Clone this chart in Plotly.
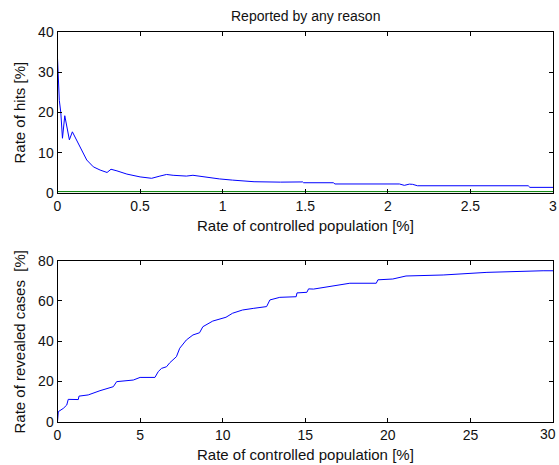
import plotly.graph_objects as go

# Top panel: rate of hits vs rate of controlled population
hits_x = [0.0, 0.011, 0.02, 0.03, 0.044, 0.072, 0.09, 0.136, 0.177, 0.217, 0.258, 0.30, 0.324,
          0.36, 0.42, 0.50, 0.57, 0.62, 0.66, 0.70, 0.78, 0.82, 0.90, 0.98, 1.06, 1.19, 1.35,
          1.485, 1.49, 1.67, 1.68, 2.07, 2.10, 2.13, 2.15, 2.18, 2.85, 2.86, 3.0]
hits_y = [33.5, 23.0, 20.0, 13.6, 19.2, 13.2, 15.2, 11.5, 8.2, 6.5, 5.7, 5.1, 5.9,
          5.5, 4.7, 4.0, 3.65, 4.2, 4.6, 4.4, 4.2, 4.4, 3.9, 3.5, 3.2, 2.8, 2.7,
          2.75, 2.55, 2.55, 2.24, 2.24, 1.9, 2.2, 2.15, 1.8, 1.8, 1.4, 1.4]
baseline_x = [0.0, 3.0]
baseline_y = [0.35, 0.35]

# Bottom panel: rate of revealed cases vs rate of controlled population
cases_x = [0.0, 0.05, 0.35, 0.56, 0.65, 1.26, 1.3, 1.86, 2.57, 3.38, 3.58, 4.59, 5.0, 5.9,
           6.1, 6.3, 6.6, 6.8, 7.2, 7.4, 7.8, 8.2, 8.6, 8.8, 9.4, 10.2, 10.6, 11.2, 11.85,
           12.66, 12.86, 13.46, 14.45, 14.5, 15.1, 15.2, 15.5, 16.7, 17.7, 19.3, 19.4,
           20.3, 21.1, 23.35, 25.2, 26.0, 29.4, 30.0]
cases_y = [0.0, 5.0, 6.6, 8.3, 11.1, 11.0, 12.7, 13.3, 15.4, 17.4, 19.9, 20.7, 22.0, 22.0,
           24.9, 26.5, 27.3, 29.3, 32.3, 36.5, 40.6, 43.1, 44.2, 47.2, 50.0, 51.9, 53.9,
           55.5, 56.3, 57.2, 60.5, 61.8, 62.1, 64.0, 64.3, 66.0, 65.9, 67.6, 68.8, 68.8,
           70.5, 70.9, 72.4, 72.9, 73.7, 74.2, 75.0, 75.0]

top_xticks = [0, 0.5, 1, 1.5, 2, 2.5, 3]
top_xlabels = ["0", "0.5", "1", "1.5", "2", "2.5", "3"]
top_yticks = [0, 10, 20, 30, 40]
bot_xticks = [0, 5, 10, 15, 20, 25, 30]
bot_xlabels = ["0", "5", "10", "15", "20", "25", ""]
last_bot_label = "30"
bot_yticks = [0, 20, 40, 60, 80]

W, H = 559, 465
xl, xr = 57.5 / W, 553 / W
top_dom = [1 - 193 / H, 1 - 32 / H]
bot_dom = [1 - 421.7 / H, 1 - 260.7 / H]

fig = go.Figure()
fig.add_trace(go.Scatter(x=hits_x, y=hits_y, mode="lines", line=dict(color="#0000ff", width=1),
                         xaxis="x", yaxis="y", showlegend=False))
fig.add_trace(go.Scatter(x=baseline_x, y=baseline_y, mode="lines", line=dict(color="#007f00", width=1),
                         xaxis="x", yaxis="y", showlegend=False))
fig.add_trace(go.Scatter(x=cases_x, y=cases_y, mode="lines", line=dict(color="#0000ff", width=1),
                         xaxis="x2", yaxis="y2", showlegend=False))

font = dict(family="Liberation Sans, Arial, sans-serif", size=14, color="#000000")
ax_common = dict(showgrid=False, zeroline=False, showline=True, linecolor="#000000", linewidth=1,
                 mirror="allticks", ticks="inside", ticklen=4, tickcolor="#000000", tickwidth=1,
                 automargin=False, ticklabeloverflow="allow",
                 tickfont=dict(size=14, color="#111111"))

fig.update_layout(
    template="none",
    width=W, height=H, margin=dict(l=0, r=0, t=0, b=0, autoexpand=False),
    paper_bgcolor="#ffffff", plot_bgcolor="#ffffff", font=font,
    xaxis=dict(domain=[xl, xr], range=[0, 3], tickvals=top_xticks,
               ticktext=top_xlabels, anchor="y", **ax_common),
    yaxis=dict(domain=top_dom, range=[0, 40], tickvals=top_yticks, anchor="x", **ax_common),
    xaxis2=dict(domain=[xl, xr], range=[0, 30], tickvals=bot_xticks, ticktext=bot_xlabels,
                anchor="y2", **ax_common),
    yaxis2=dict(domain=bot_dom, range=[0, 80], tickvals=bot_yticks, anchor="x2", **ax_common),
    annotations=[
        dict(text="Reported by any reason", x=(xl + xr) / 2, y=1 - 16 / H, xref="paper", yref="paper",
             showarrow=False, font=dict(size=14, color="#111111"), xanchor="center", yanchor="middle"),
        dict(text="Rate of controlled population [%]", x=(xl + xr) / 2, y=1 - 225 / H, xref="paper",
             yref="paper", showarrow=False, font=dict(size=15, color="#111111"),
             xanchor="center", yanchor="middle"),
        dict(text="Rate of controlled population [%]", x=(xl + xr) / 2, y=1 - 454 / H, xref="paper",
             yref="paper", showarrow=False, font=dict(size=15, color="#111111"),
             xanchor="center", yanchor="middle"),
        dict(text="Rate of hits [%]", x=19 / W, y=1 - 112.5 / H, xref="paper", yref="paper",
             showarrow=False, textangle=-90, font=dict(size=15, color="#111111"),
             xanchor="center", yanchor="middle"),
        dict(text="Rate of revealed cases\u00a0\u00a0[%]", x=19 / W, y=1 - 342.5 / H, xref="paper",
             yref="paper", showarrow=False, textangle=-90, font=dict(size=15, color="#111111"),
             xanchor="center", yanchor="middle"),
        dict(text=last_bot_label, x=1.0, y=1 - 434 / H, xref="paper", yref="paper",
             showarrow=False, font=dict(size=14, color="#111111"), xanchor="right",
             yanchor="middle", xshift=-1),
    ],
)

fig.write_html("out.html")
